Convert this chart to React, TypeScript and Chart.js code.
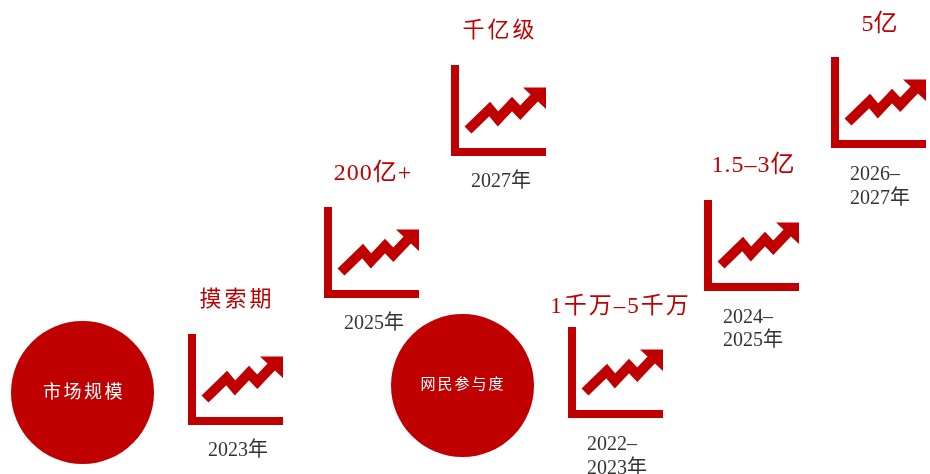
import React, { useEffect, useRef } from "react";
import { Chart, registerables } from "chart.js";

Chart.register(...registerables);

// Content
const circleTitles = ["市场规模", "网民参与度"];
const marketStages = ["摸索期", "200亿+", "千亿级"];
const marketYears = [["2023年"], ["2025年"], ["2027年"]];
const engagementStages = ["1千万–5千万", "1.5–3亿", "5亿"];
const engagementYears = [["2022–", "2023年"], ["2024–", "2025年"], ["2026–", "2027年"]];

// Rising trend inside one icon, in icon-local units
const trendX = [17, 38.7, 47, 61, 69.3, 88];
const trendY = [65, 44, 54, 39, 47.7, 28];
const arrowX = [72, 95, 95];
const arrowY = [22.5, 22.5, 44];
const frameX = [4, 4, 95];
const frameY = [0, 87, 87];

// Layout on the 930x474 drawing plane
const RED = "#C00000";
const INK = "#333333";
const FAMILY = '"Liberation Serif", "Noto Sans CJK SC", serif';
const circles = [
  { x: 82.5, y: 392.5, r: 71.5 },
  { x: 462.5, y: 385.5, r: 71.5 },
];
const marketIcons = [
  { x: 188, y: 334, stageX: 237, stageY: 300.5, yearX: 238, yearY: 451, align: "center" },
  { x: 324, y: 207, stageX: 373, stageY: 173.5, yearX: 374, yearY: 324, align: "center" },
  { x: 451, y: 65, stageX: 500, stageY: 31, yearX: 501, yearY: 182, align: "center" },
];
const engagementIcons = [
  { x: 568, y: 327, stageX: 620.5, stageY: 306.5, yearX: 587, yearY: 445, align: "left" },
  { x: 704, y: 200, stageX: 753.5, stageY: 166, yearX: 723, yearY: 317.5, align: "left" },
  { x: 831, y: 57, stageX: 879.5, stageY: 25, yearX: 850, yearY: 175, align: "left" },
];

type Label = {
  text: string;
  x: number;
  y: number;
  color: string;
  size: number;
  align: CanvasTextAlign;
  spacing: number;
};

function buildDatasets() {
  const icons = [...marketIcons, ...engagementIcons];
  const datasets: any[] = [];
  datasets.push({
    data: circles.map((c) => ({ x: c.x, y: c.y })),
    pointRadius: circles.map((c) => c.r),
    pointBackgroundColor: RED,
    pointBorderWidth: 0,
    showLine: false,
    clip: false,
  });
  const stroke = { borderColor: RED, pointRadius: 0, showLine: true, tension: 0, fill: false };
  icons.forEach((icon) => {
    datasets.push({
      ...stroke,
      borderWidth: 8,
      data: frameX.map((v, i) => ({ x: icon.x + v, y: icon.y + frameY[i] })),
    });
    datasets.push({
      ...stroke,
      borderWidth: 10,
      data: trendX.map((v, i) => ({ x: icon.x + v, y: icon.y + trendY[i] })),
    });
    datasets.push({
      data: arrowX.map((v, i) => ({ x: icon.x + v, y: icon.y + arrowY[i] })),
      borderWidth: 0,
      pointRadius: 0,
      showLine: true,
      tension: 0,
      backgroundColor: RED,
      fill: "shape",
    });
  });
  return datasets;
}

function buildLabels(): Label[] {
  const labels: Label[] = [
    { text: circleTitles[0], x: 84, y: 393, color: "#FFFFFF", size: 18, align: "center", spacing: 2.5 },
    { text: circleTitles[1], x: 463, y: 385, color: "#FFFFFF", size: 15, align: "center", spacing: 2 },
  ];
  const addGroup = (icons: typeof marketIcons, stages: string[], years: string[][], stageSizes: number[], gaps: number[]) => {
    icons.forEach((icon, i) => {
      labels.push({
        text: stages[i],
        x: icon.stageX,
        y: icon.stageY,
        color: RED,
        size: stageSizes[i],
        align: "center",
        spacing: gaps[i],
      });
      years[i].forEach((line, j) => {
        labels.push({
          text: line,
          x: icon.yearX,
          y: icon.yearY + j * 23.5,
          color: INK,
          size: 20,
          align: icon.align as CanvasTextAlign,
          spacing: 0,
        });
      });
    });
  };
  addGroup(marketIcons, marketStages, marketYears, [22, 24, 22], [3, 1, 3]);
  addGroup(engagementIcons, engagementStages, engagementYears, [23, 24, 24], [2, 1, 0]);
  return labels;
}

// Writes the captions at positions resolved through the chart's scales
const captionPlugin = {
  id: "captions",
  afterDatasetsDraw(chart: any) {
    const { ctx, scales } = chart;
    ctx.save();
    ctx.textBaseline = "middle";
    buildLabels().forEach((label) => {
      ctx.font = `${label.size}px ${FAMILY}`;
      ctx.fillStyle = label.color;
      ctx.textAlign = label.align;
      ctx.letterSpacing = `${label.spacing}px`;
      ctx.fillText(label.text, scales.x.getPixelForValue(label.x), scales.y.getPixelForValue(label.y));
    });
    ctx.restore();
  },
};

export default function App() {
  const canvasRef = useRef<HTMLCanvasElement>(null);

  useEffect(() => {
    if (!canvasRef.current) return;
    const chart = new Chart(canvasRef.current, {
      type: "scatter",
      data: { datasets: buildDatasets() },
      options: {
        animation: false,
        responsive: false,
        layout: { padding: 0, autoPadding: false },
        plugins: { legend: { display: false }, tooltip: { enabled: false } },
        events: [],
        scales: {
          x: { type: "linear", min: 0, max: 930, display: false },
          y: { type: "linear", min: 0, max: 474, reverse: true, display: false },
        },
      },
      plugins: [captionPlugin],
    } as any);
    return () => chart.destroy();
  }, []);

  return (
    <div style={{ position: "fixed", left: 0, top: 0, width: 930, height: 474, background: "#FFFFFF" }}>
      <canvas ref={canvasRef} width={930} height={474} style={{ display: "block" }} />
    </div>
  );
}
